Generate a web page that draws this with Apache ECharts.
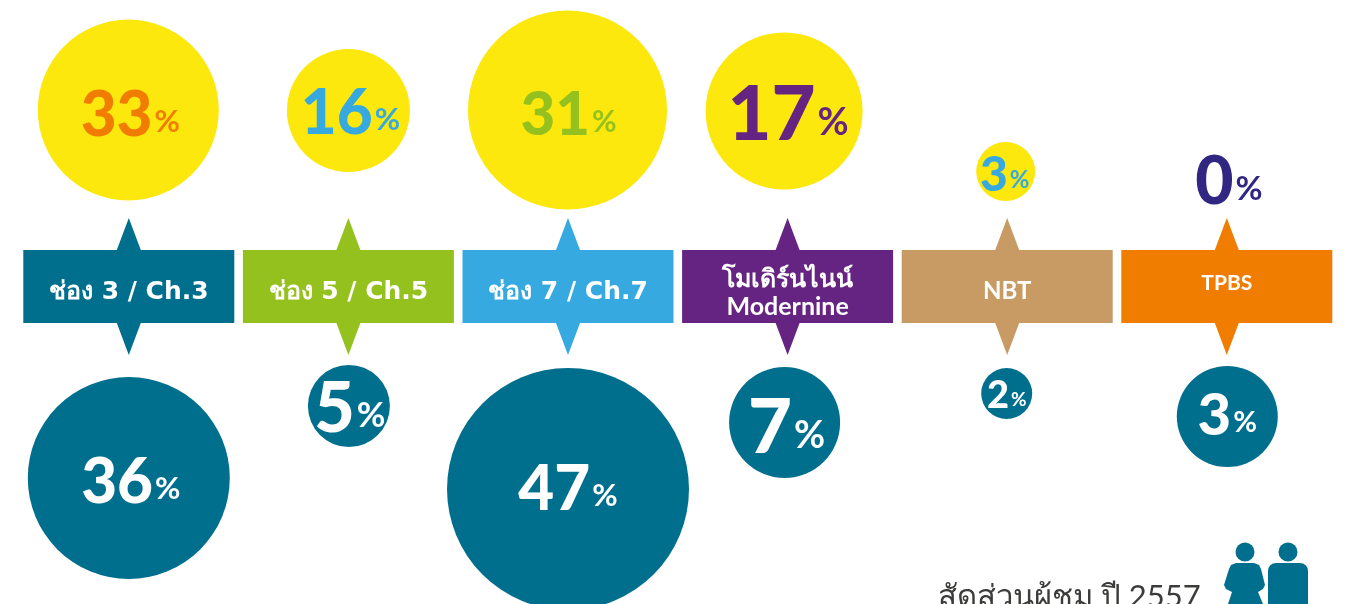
<!DOCTYPE html>
<html>
<head>
    <meta charset="UTF-8">
    <title>สัดส่วนผู้ชม</title>
    <style>
        html, body { margin: 0; padding: 0; background: #fff; }
        #chart { width: 1348px; height: 604px; }
    </style>
</head>
<body>
<div id="chart"></div>
<script src="https://cdn.jsdelivr.net/npm/echarts@6/dist/echarts.min.js"></script>
<script type="text/javascript">
    const channels = ['ช่อง 3 / Ch.3', 'ช่อง 5 / Ch.5', 'ช่อง 7 / Ch.7', 'โมเดิร์นไนน์\nModernine', 'NBT', 'TPBS'];
    const upperShare = [33, 16, 31, 17, 3, 0];
    const lowerShare = [36, 5, 47, 7, 2, 3];
    const rows = ['upper', 'band', 'lower'];

    // styling per channel
    const bandColors = ['#006f8e', '#95c11f', '#36a9e1', '#662482', '#c89b65', '#f07d00'];
    const upperTextColors = ['#f07d00', '#36a9e1', '#95c11f', '#662482', '#36a9e1', '#312783'];
    const yellow = '#fce80c';
    const teal = '#006f8e';
    const thaiFont = '"Lato", "Noto Sans", "DejaVu Sans", sans-serif';
    const wideFont = '"DejaVu Sans", "Noto Sans", sans-serif';

    // circle size, nudge from the row centre, digit size, label nudge
    const upperLayout = [
        { size: 181, dx: -0.5, dy: 0, font: 62, tx: 2, ty: 6 },
        { size: 123, dx: 0, dy: 0.5, font: 62, tx: 2, ty: 3 },
        { size: 199, dx: -0.5, dy: 0, font: 60, tx: 1, ty: 6 },
        { size: 157, dx: -3.5, dy: 1, font: 76, tx: 4, ty: 4 },
        { size: 59, dx: -1.5, dy: 61.5, font: 48, tx: -1, ty: 4 },
        { size: 0, dx: 1, dy: 77, font: 66, tx: 1, ty: -4 }
    ];
    const lowerLayout = [
        { size: 202, dx: 0, dy: 15, font: 62, tx: 2, ty: 5 },
        { size: 82, dx: 0.5, dy: -57, font: 70, tx: 1, ty: 3 },
        { size: 242, dx: 0, dy: 26, font: 62, tx: 0, ty: 1 },
        { size: 111, dx: -3, dy: -40.5, font: 76, tx: 2, ty: 6 },
        { size: 51, dx: -0.5, dy: -69.5, font: 38, tx: 0, ty: 2 },
        { size: 101, dx: 0.5, dy: -46.5, font: 58, tx: 0, ty: 0 }
    ];

    // label font and vertical nudge for the band captions
    const bandText = [
        { font: wideFont, size: 25, dy: 6 },
        { font: wideFont, size: 25, dy: 6 },
        { font: wideFont, size: 25, dy: 6 },
        { font: thaiFont, size: 25, dy: 6 },
        { font: thaiFont, size: 24, dy: 5 },
        { font: thaiFont, size: 21, dy: -3 }
    ];

    function circleData(values, row, layout, fill, textColors) {
        return values.map(function (v, i) {
            let l = layout[i];
            let color = textColors ? textColors[i] : '#fff';
            return {
                value: [i, row],
                symbolSize: l.size,
                symbolOffset: [l.dx, l.dy],
                itemStyle: { color: fill, opacity: 1 },
                label: {
                    show: true,
                    position: 'inside',
                    offset: [l.tx, l.ty],
                    formatter: '{n|' + v + '}{p|%}',
                    rich: {
                        n: { fontFamily: thaiFont, fontWeight: 900, fontSize: l.font, color: color, lineHeight: l.font },
                        p: { fontFamily: thaiFont, fontWeight: 'bold', fontSize: Math.round(l.font * 0.5), color: color, padding: [Math.round(l.font * 0.2), 0, 0, 2] }
                    }
                }
            };
        });
    }

    function renderBand(params, api) {
        let i = api.value(0);
        let c = api.coord([i, 'band']);
        let x = c[0], y = c[1];
        let left = x - 105.5, right = x + 105.5;
        let top = y - 36.5, bottom = y + 36.5;
        let spike = 32, half = 12;
        let t = bandText[i];
        return {
            type: 'group',
            children: [{
                type: 'polygon',
                shape: {
                    points: [
                        [left, top], [x - half, top], [x, top - spike], [x + half, top], [right, top],
                        [right, bottom], [x + half, bottom], [x, bottom + spike], [x - half, bottom], [left, bottom]
                    ]
                },
                style: { fill: bandColors[i] }
            }, {
                type: 'text',
                style: {
                    x: x,
                    y: y + t.dy,
                    text: channels[i],
                    fill: '#fff',
                    align: 'center',
                    verticalAlign: 'middle',
                    fontFamily: t.font,
                    fontWeight: 'bold',
                    fontSize: t.size,
                    lineHeight: 28
                }
            }]
        };
    }

    let chart = echarts.init(document.getElementById('chart'));
    chart.setOption({
        animation: false,
        backgroundColor: '#fff',
        grid: { left: 19, top: 21.75, width: 1317.6, height: 529.5 },
        xAxis: { type: 'category', data: channels, show: false },
        yAxis: { type: 'category', data: rows, inverse: true, show: false },
        series: [
            {
                type: 'custom',
                renderItem: renderBand,
                data: channels.map(function (c, i) { return [i]; }),
                encode: { x: 0 }
            },
            {
                name: 'upper',
                type: 'scatter',
                data: circleData(upperShare, 'upper', upperLayout, yellow, upperTextColors)
            },
            {
                name: 'lower',
                type: 'scatter',
                data: circleData(lowerShare, 'lower', lowerLayout, teal)
            }
        ],
        graphic: [
            {
                type: 'text',
                x: 938,
                y: 612,
                style: {
                    text: 'สัดส่วนผู้ชม ปี 2557',
                    fill: '#3c3c3b',
                    fontFamily: thaiFont,
                    fontSize: 31,
                    verticalAlign: 'bottom'
                }
            },
            { type: 'circle', shape: { cx: 1245, cy: 552, r: 9.5 }, style: { fill: teal } },
            { type: 'circle', shape: { cx: 1288, cy: 552, r: 9.5 }, style: { fill: teal } },
            {
                type: 'polygon',
                shape: {
                    points: [[1236, 563], [1254, 563], [1259, 565], [1261, 569], [1265, 585], [1263, 589], [1258, 592], [1263, 604],
                        [1228, 604], [1232, 592], [1226, 589], [1224, 585], [1229, 569], [1231, 565]]
                },
                style: { fill: teal }
            },
            {
                type: 'rect',
                shape: { x: 1268, y: 563, width: 40, height: 41, r: [8, 8, 0, 0] },
                style: { fill: teal }
            }
        ]
    });
</script>
</body>
</html>
